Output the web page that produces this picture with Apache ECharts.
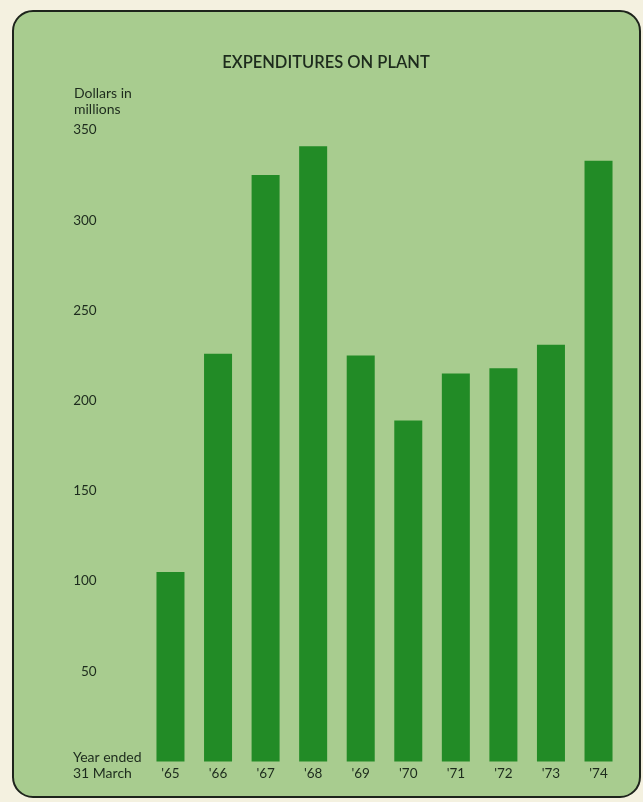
<!DOCTYPE html>
<html>
<head>
<meta charset="utf-8">
<script src="https://cdn.jsdelivr.net/npm/echarts@6/dist/echarts.min.js"></script>
<style>
html,body{margin:0;padding:0;background:#f4f1e0;}
#chart{width:643px;height:802px;}
</style>
</head>
<body>
<div id="chart"></div>
<script>
const categories = ["'65","'66","'67","'68","'69","'70","'71","'72","'73","'74"];
const expenditures = [105, 226, 325, 341, 225, 189, 215, 218, 231, 333];
const yTicks = [0, 50, 100, 150, 200, 250, 300, 350];

const textColor = '#1d2b1d';
const fontFamily = 'Lato, "Open Sans", sans-serif';
const chart = echarts.init(document.getElementById('chart'), null, {renderer:'canvas'});
chart.setOption({
  backgroundColor: '#f4f1e0',
  animation: false,
  graphic: [
    {type:'rect', z:-10, shape:{x:13, y:11, width:627, height:786, r:20},
     style:{fill:'#a8cc8f', stroke:'#1e241c', lineWidth:2}},
    {type:'text', x:326, y:62.5, style:{text:'EXPENDITURES ON PLANT', fill:textColor, font:'600 16.5px ' + fontFamily, textAlign:'center', textVerticalAlign:'middle'}},
    {type:'text', x:74, y:85, style:{text:'Dollars in\nmillions', fill:textColor, font:'14px ' + fontFamily, lineHeight:16, textAlign:'left', textVerticalAlign:'top'}},
    {type:'text', x:73, y:750, style:{text:'Year ended\n31 March', fill:textColor, font:'14px ' + fontFamily, lineHeight:15.5, textAlign:'left', textVerticalAlign:'top'}}
  ],
  grid: {left:146.7, right:20.7, top:130, bottom:40.5},
  xAxis: {
    type:'category', data: categories,
    axisLine:{show:false}, axisTick:{show:false},
    axisLabel:{color:textColor, fontFamily:fontFamily, fontSize:13.5, margin:5}
  },
  yAxis: {
    type:'value', min:yTicks[0], max:yTicks[yTicks.length-1], interval:50,
    axisLine:{show:false}, axisTick:{show:false}, splitLine:{show:false},
    axisLabel:{color:textColor, fontFamily:fontFamily, fontSize:13.5, margin:50, align:'right',
      formatter: v => (v === 0 ? '' : String(v))}
  },
  series: [{
    type:'bar', data: expenditures, barWidth:28,
    itemStyle:{color:'#228b26'}
  }]
});
</script>
</body>
</html>
